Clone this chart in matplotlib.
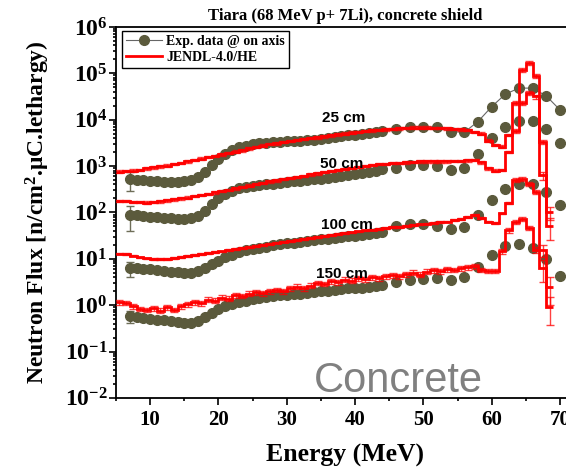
import numpy as np
import matplotlib
matplotlib.use('Agg')
import matplotlib.pyplot as plt
from matplotlib.lines import Line2D

plt.rcParams['font.family'] = 'serif'
plt.rcParams['font.serif'] = ['Liberation Serif', 'DejaVu Serif']
plt.rcParams['font.weight'] = 'bold'
plt.rcParams['axes.labelweight'] = 'bold'
plt.rcParams['axes.titleweight'] = 'bold'
plt.rcParams['mathtext.default'] = 'regular'

# measured spectra, log10(flux): 1 MeV steps up to 44 MeV, then 2 MeV steps
exp_energy = np.r_[np.arange(7, 45), np.arange(46, 71, 2)]
exp25_log = [2.72, 2.70, 2.69, 2.68, 2.67, 2.66, 2.66, 2.66, 2.67, 2.70,
             2.76, 2.88, 3.02, 3.15, 3.26, 3.34, 3.40, 3.44, 3.47, 3.49,
             3.50, 3.51, 3.52, 3.53, 3.54, 3.55, 3.56, 3.57, 3.59, 3.61,
             3.62, 3.64, 3.66, 3.67, 3.69, 3.71, 3.73, 3.75,
             3.80, 3.85, 3.85, 3.84, 3.74, 3.73, 3.96, 4.28, 4.55, 4.68,
             4.68, 4.51, 4.21]
exp50_log = [1.95, 1.95, 1.93, 1.91, 1.90, 1.88, 1.87, 1.86, 1.86, 1.88,
             1.93, 2.04, 2.18, 2.30, 2.40, 2.47, 2.52, 2.55, 2.57, 2.59,
             2.61, 2.62, 2.64, 2.65, 2.67, 2.68, 2.70, 2.71, 2.73, 2.75,
             2.77, 2.79, 2.81, 2.83, 2.85, 2.88, 2.90, 2.93,
             2.96, 3.03, 3.03, 2.99, 2.92, 2.96, 3.26, 3.60, 3.85, 3.97,
             3.97, 3.80, 3.49]
exp100_log = [0.80, 0.80, 0.78, 0.77, 0.75, 0.74, 0.72, 0.71, 0.70, 0.70,
              0.74, 0.81, 0.89, 0.96, 1.03, 1.09, 1.14, 1.18, 1.21, 1.24,
              1.26, 1.29, 1.31, 1.33, 1.35, 1.36, 1.38, 1.40, 1.42, 1.43,
              1.45, 1.47, 1.49, 1.50, 1.52, 1.54, 1.56, 1.58,
              1.70, 1.75, 1.75, 1.70, 1.64, 1.68, 1.95, 2.26, 2.50, 2.62,
              2.62, 2.45, 2.16]
exp150_log = [-0.24, -0.25, -0.27, -0.29, -0.31, -0.33, -0.35, -0.37, -0.38, -0.38,
              -0.34, -0.26, -0.17, -0.09, -0.02, 0.03, 0.07, 0.10, 0.13, 0.15,
              0.17, 0.19, 0.21, 0.22, 0.24, 0.25, 0.27, 0.28, 0.30, 0.31,
              0.33, 0.34, 0.36, 0.37, 0.38, 0.40, 0.41, 0.43,
              0.50, 0.55, 0.56, 0.58, 0.55, 0.61, 0.83, 1.09, 1.28, 1.32,
              1.23, 1.00, 0.63]
exp_err_first = [0.45, 0.55, 0.35, 0.30]   # relative error of the 7 MeV point
exp_err_rest = 0.04

# JENDL-4.0/HE calculation, 1 MeV bins from 5 to 69 MeV, log10(flux)
jendl_edges = np.arange(5, 70)
jendl25_log = [2.88, 2.89, 2.90, 2.92, 2.95, 2.97, 2.99, 3.01, 3.04, 3.07,
               3.10, 3.13, 3.16, 3.19, 3.22, 3.25, 3.28, 3.31, 3.34, 3.38,
               3.41, 3.44, 3.47, 3.49, 3.52, 3.54, 3.56, 3.58, 3.60, 3.62,
               3.64, 3.66, 3.68, 3.70, 3.72, 3.74, 3.75, 3.77, 3.78, 3.79,
               3.80, 3.81, 3.82, 3.83, 3.83, 3.83, 3.82, 3.82, 3.81, 3.80,
               3.79, 3.78, 3.74, 3.70, 3.55, 3.46, 3.42, 3.67, 4.36, 5.07,
               5.22, 4.95, 3.52, 2.00]
jendl50_log = [2.25, 2.25, 2.23, 2.22, 2.21, 2.22, 2.24, 2.26, 2.28, 2.30,
               2.32, 2.35, 2.37, 2.40, 2.43, 2.46, 2.49, 2.52, 2.55, 2.58,
               2.61, 2.64, 2.67, 2.69, 2.72, 2.74, 2.77, 2.79, 2.82, 2.84,
               2.87, 2.89, 2.92, 2.94, 2.96, 2.98, 3.00, 3.02, 3.04, 3.05,
               3.06, 3.07, 3.08, 3.09, 3.10, 3.10, 3.10, 3.10, 3.10, 3.11,
               3.11, 3.12, 3.13, 3.08, 2.95, 2.90, 2.92, 3.30, 3.75, 4.36,
               4.57, 4.50, 2.80, 1.70]
jendl100_log = [1.11, 1.10, 1.07, 1.03, 1.01, 1.00, 0.99, 1.00, 1.02, 1.04,
                1.06, 1.08, 1.10, 1.12, 1.14, 1.16, 1.19, 1.21, 1.23, 1.26,
                1.28, 1.30, 1.32, 1.35, 1.37, 1.39, 1.41, 1.43, 1.45, 1.47,
                1.49, 1.51, 1.53, 1.55, 1.57, 1.59, 1.61, 1.63, 1.64, 1.66,
                1.68, 1.69, 1.71, 1.73, 1.74, 1.76, 1.77, 1.79, 1.80, 1.83,
                1.86, 1.90, 1.95, 1.88, 1.80, 1.77, 1.98, 2.20, 2.70, 2.72,
                2.62, 2.45, 0.80, 0.40]
jendl150_log = [0.06, 0.05, -0.02, -0.08, -0.10, -0.07, -0.12, -0.05, -0.10, -0.02,
                0.02, 0.06, 0.04, 0.12, 0.10, 0.16, 0.14, 0.22, 0.20, 0.25,
                0.28, 0.26, 0.30, 0.33, 0.30, 0.36, 0.40, 0.36, 0.42, 0.48,
                0.46, 0.52, 0.50, 0.55, 0.53, 0.58, 0.56, 0.60, 0.58, 0.62,
                0.65, 0.63, 0.67, 0.70, 0.66, 0.72, 0.75, 0.73, 0.78, 0.76,
                0.80, 0.82, 0.84, 0.76, 0.74, 0.74, 1.16, 1.62, 1.80, 1.86,
                1.67, 1.19, 1.19, -0.03]
jendl_err_base = [0.06, 0.06, 0.04, 0.12]
# relative errors of the last six bins (63-68 MeV)
jendl_err_tail = [[0.10, 0.10, 0.10, 0.10, 0.10, 0.30],
                  [0.10, 0.10, 0.10, 0.10, 0.20, 0.50],
                  [0.10, 0.10, 0.10, 0.10, 0.50, 0.60],
                  [0.10, 0.10, 0.10, 0.15, 0.30, 0.60]]

depth_labels = ['25 cm', '50 cm', '100 cm', '150 cm']
depth_label_x = [38.4, 38.0, 38.8, 38.1]
depth_label_y = [1.1e4, 1.12e3, 54, 4.6]

exp_color = '#5b5a3c'

fig = plt.figure(figsize=(5.66, 4.72), dpi=100)
ax = fig.add_axes([0.205, 0.157, 0.8085, 0.786])

exp_sets = [exp25_log, exp50_log, exp100_log, exp150_log]
jendl_sets = [jendl25_log, jendl50_log, jendl100_log, jendl150_log]
centers = jendl_edges[:-1] + 0.5

for i in range(4):
    y = 10 ** np.array(exp_sets[i])
    rel = np.full(len(y), exp_err_rest)
    rel[0] = exp_err_first[i]
    ls = '-' if i == 0 else 'none'
    ax.errorbar(exp_energy, y, yerr=y * rel, color='#666666', ls=ls, lw=0.8,
                marker='o', ms=7, mfc=exp_color, mec=exp_color,
                ecolor='#6e6e58', elinewidth=1, capsize=3, zorder=2)

    v = 10 ** np.array(jendl_sets[i])
    rel = np.full(len(v), jendl_err_base[i])
    rel[-6:] = jendl_err_tail[i]
    ax.errorbar(centers, v, yerr=v * rel, fmt='none', ecolor='red',
                elinewidth=1, capsize=3, alpha=0.75, zorder=3)
    ax.stairs(v, jendl_edges, baseline=None, color='red', lw=2, zorder=4)

    ax.text(depth_label_x[i], depth_label_y[i], depth_labels[i], family='Liberation Sans',
            fontweight='bold', fontsize=11, ha='center', va='center', zorder=5)

ax.text(46.3, 10 ** -1.87, 'Concrete', family='Liberation Sans', fontweight='normal',
        fontsize=30, color='#808080', ha='center', va='baseline')

ax.set_yscale('log')
ax.set_xlim(5, 72)
ax.set_ylim(1e-2, 1e6)
ax.set_xticks([10, 20, 30, 40, 50, 60, 70])
ax.set_xticks(np.arange(5, 75, 5), minor=True)

ax.tick_params(axis='both', which='both', direction='out', width=1.2)
ax.tick_params(axis='both', which='major', length=5)
ax.tick_params(axis='both', which='minor', length=2.5)
ax.tick_params(axis='x', labelsize=15, pad=4)
ax.tick_params(axis='y', labelsize=17, pad=1)
for s in ax.spines.values():
    s.set_linewidth(1.3)

ax.set_xlabel('Energy (MeV)', fontsize=18.5, labelpad=10)
ax.set_ylabel('Neutron Flux [n/cm$^{2}$.\u03bcC.lethargy)', fontsize=17, labelpad=9)
ax.set_title('Tiara (68 MeV p+ 7Li), concrete shield', fontsize=12, pad=5)

handles = [Line2D([], [], color='#666666', lw=0.8, marker='o', ms=7,
                  mfc=exp_color, mec=exp_color),
           Line2D([], [], color='red', lw=2)]
leg = ax.legend(handles, ['Exp. data @ on axis', 'JENDL-4.0/HE'], loc='upper left',
                bbox_to_anchor=(0.013, 0.99), borderaxespad=0,
                fancybox=False, edgecolor='black', framealpha=1, fontsize=10,
                handlelength=2.6, borderpad=0.3, labelspacing=0.2, handletextpad=0.3)
leg.get_frame().set_linewidth(1.0)

fig.savefig('out.png', dpi=100)
